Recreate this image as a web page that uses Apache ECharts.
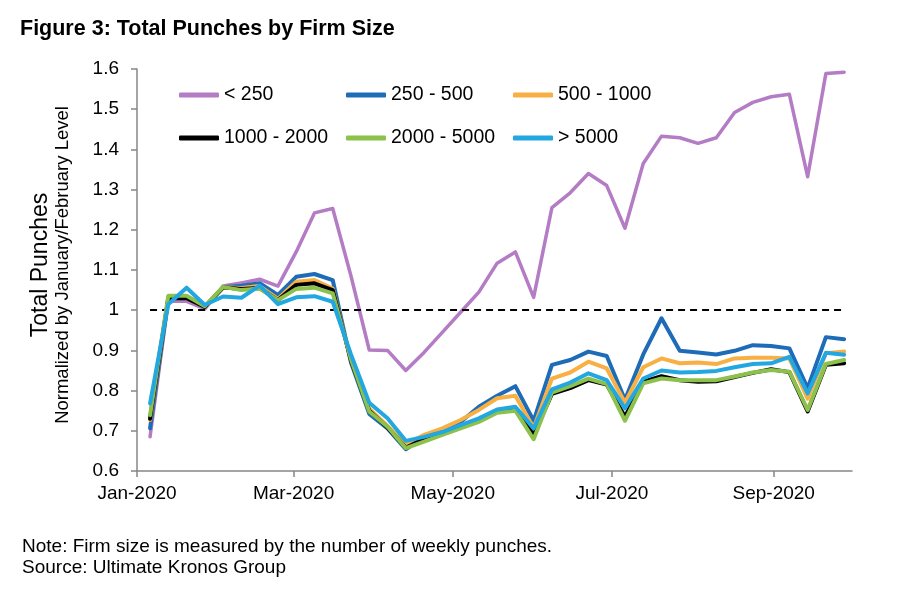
<!DOCTYPE html>
<html>
<head>
<meta charset="utf-8">
<script src="https://cdn.jsdelivr.net/npm/echarts@6/dist/echarts.min.js"></script>
<style>
html,body{margin:0;padding:0;background:#fff;}
#chart{width:900px;height:598px;}
</style>
</head>
<body>
<div id="chart"></div>
<script>
var weeks = ['2020-01-06','2020-01-13','2020-01-20','2020-01-27','2020-02-03','2020-02-10','2020-02-17','2020-02-24',
 '2020-03-02','2020-03-09','2020-03-16','2020-03-23','2020-03-30','2020-04-06','2020-04-13','2020-04-20','2020-04-27',
 '2020-05-04','2020-05-11','2020-05-18','2020-05-25','2020-06-01','2020-06-08','2020-06-15','2020-06-22','2020-06-29',
 '2020-07-06','2020-07-13','2020-07-20','2020-07-27','2020-08-03','2020-08-10','2020-08-17','2020-08-24','2020-08-31',
 '2020-09-07','2020-09-14','2020-09-21','2020-09-28'];

var seriesNames = ['< 250','250 - 500','500 - 1000','1000 - 2000','2000 - 5000','> 5000'];

var lt250 = [0.685,1.022,1.022,1.003,1.060,1.068,1.077,1.060,1.145,1.242,1.253,1.085,0.901,0.900,0.850,0.895,0.945,0.995,1.045,1.117,1.145,1.032,1.255,1.292,1.340,1.310,1.204,1.365,1.433,1.429,1.415,1.429,1.492,1.517,1.531,1.537,1.332,1.589,1.592];
var s250_500 = [0.706,1.030,1.030,1.008,1.057,1.061,1.067,1.038,1.083,1.090,1.075,0.870,0.742,0.706,0.654,0.685,0.697,0.722,0.760,0.787,0.811,0.725,0.864,0.876,0.897,0.886,0.777,0.890,0.980,0.899,0.895,0.890,0.899,0.913,0.911,0.905,0.806,0.933,0.928];
var s500_1000 = [0.727,1.030,1.030,1.008,1.057,1.055,1.060,1.028,1.071,1.075,1.054,0.875,0.755,0.712,0.665,0.690,0.706,0.727,0.752,0.781,0.787,0.707,0.830,0.845,0.872,0.855,0.770,0.858,0.880,0.868,0.870,0.866,0.880,0.882,0.882,0.880,0.780,0.893,0.897];
var s1000_2000 = [0.730,1.030,1.030,1.008,1.057,1.053,1.055,1.025,1.063,1.067,1.050,0.875,0.750,0.708,0.658,0.680,0.692,0.710,0.725,0.748,0.753,0.690,0.792,0.806,0.826,0.815,0.735,0.822,0.836,0.826,0.822,0.823,0.834,0.844,0.853,0.846,0.748,0.864,0.868];
var s2000_5000 = [0.739,1.036,1.036,1.010,1.058,1.050,1.054,1.025,1.053,1.056,1.042,0.878,0.748,0.710,0.657,0.673,0.690,0.706,0.722,0.745,0.750,0.679,0.795,0.811,0.830,0.816,0.725,0.818,0.830,0.826,0.826,0.826,0.835,0.845,0.851,0.847,0.752,0.866,0.876];
var gt5000 = [0.768,1.015,1.056,1.013,1.034,1.031,1.061,1.015,1.032,1.035,1.021,0.890,0.770,0.731,0.675,0.685,0.697,0.714,0.731,0.753,0.760,0.706,0.803,0.820,0.843,0.826,0.756,0.830,0.850,0.845,0.846,0.849,0.858,0.866,0.868,0.884,0.793,0.894,0.889];

var tickDates = ['2020-01-01','2020-03-01','2020-05-01','2020-07-01','2020-09-01'];
var tickLabels = ['Jan-2020','Mar-2020','May-2020','Jul-2020','Sep-2020'];
var yTicks = [0.6,0.7,0.8,0.9,1.0,1.1,1.2,1.3,1.4,1.5,1.6];
var axisStart = '2020-01-01';
var axisEnd = '2020-10-01';
var baselineValue = 1;

function ts(s){ var p = s.split('-'); return Date.UTC(+p[0], +p[1]-1, +p[2]); }

var allValues = [lt250, s250_500, s500_1000, s1000_2000, s2000_5000, gt5000];
var colors = ['#B47CC4','#1E6CB7','#F8B045','#000000','#8CC14C','#22A7E1'];
var widths = [3.5,4,4,4,4,4];
var FONT = "'Liberation Sans', Arial, sans-serif";

var tickTs = tickDates.map(ts);
var series = allValues.map(function(vals, k){
  var s = {
    name: seriesNames[k],
    type: 'line',
    symbol: 'none',
    data: vals.map(function(v,i){ return [ts(weeks[i]), v]; }),
    lineStyle: {color: colors[k], width: widths[k], cap: 'round', join: 'round'},
    itemStyle: {color: colors[k]},
    z: 2 + k
  };
  if (k === 0) {
    s.markLine = {
      silent: true, symbol: 'none', label: {show: false},
      lineStyle: {color: '#000', type: [7,5], width: 2},
      data: [[{coord: [ts(weeks[0]), baselineValue]}, {coord: [ts(weeks[weeks.length-1]), baselineValue]}]]
    };
  }
  return s;
});

var legendPos = [[179,85],[346,85],[513,85],[179,128],[346,128],[513,128]];
var legends = seriesNames.map(function(n,k){
  return {
    data: [n], left: legendPos[k][0], top: legendPos[k][1], padding: 0,
    icon: 'roundRect', itemWidth: 40, itemHeight: 5,
    textStyle: {fontFamily: FONT, fontSize: 19.5, color: '#000'},
    selectedMode: false
  };
});

var chart = echarts.init(document.getElementById('chart'), null, {renderer: 'canvas'});
chart.setOption({
  animation: false,
  backgroundColor: '#fff',
  grid: {left: 137, right: 48, top: 69, bottom: 127, containLabel: false},
  legend: legends,
  xAxis: {
    type: 'value',
    min: ts(axisStart), max: ts(axisEnd),
    axisLine: {show: true, lineStyle: {color: '#878787', width: 1.5}},
    axisTick: {show: true, length: 6, lineStyle: {color: '#878787', width: 1.5}, customValues: tickTs},
    axisLabel: {
      customValues: tickTs, margin: 13,
      fontFamily: FONT, fontSize: 19, color: '#000',
      formatter: function(v){ var i = tickTs.indexOf(v); return i >= 0 ? tickLabels[i] : ''; }
    },
    splitLine: {show: false}
  },
  yAxis: {
    type: 'value', min: yTicks[0], max: yTicks[yTicks.length-1], interval: 0.1,
    axisLine: {show: true, lineStyle: {color: '#878787', width: 1.5}},
    axisTick: {show: true, length: 6, lineStyle: {color: '#878787', width: 1.5}},
    axisLabel: {
      margin: 18, fontFamily: FONT, fontSize: 19, color: '#000',
      formatter: function(v){ return String(+v.toFixed(1)); }
    },
    splitLine: {show: false}
  },
  graphic: [
    {type: 'text', left: 20, top: 18, style: {text: 'Figure 3: Total Punches by Firm Size', font: 'bold 21.5px ' + FONT, fill: '#000'}},
    {type: 'text', x: 41, y: 265, rotation: Math.PI/2, style: {text: 'Total Punches', font: '23px ' + FONT, fill: '#000', align: 'center', verticalAlign: 'middle'}},
    {type: 'text', x: 63, y: 265, rotation: Math.PI/2, style: {text: 'Normalized by January/February Level', font: '18.5px ' + FONT, fill: '#000', align: 'center', verticalAlign: 'middle'}},
    {type: 'text', left: 22, top: 537, style: {text: 'Note: Firm size is measured by the number of weekly punches.', font: '19px ' + FONT, fill: '#000'}},
    {type: 'text', left: 22, top: 558, style: {text: 'Source: Ultimate Kronos Group', font: '19px ' + FONT, fill: '#000'}}
  ],
  series: series
});
</script>
</body>
</html>
